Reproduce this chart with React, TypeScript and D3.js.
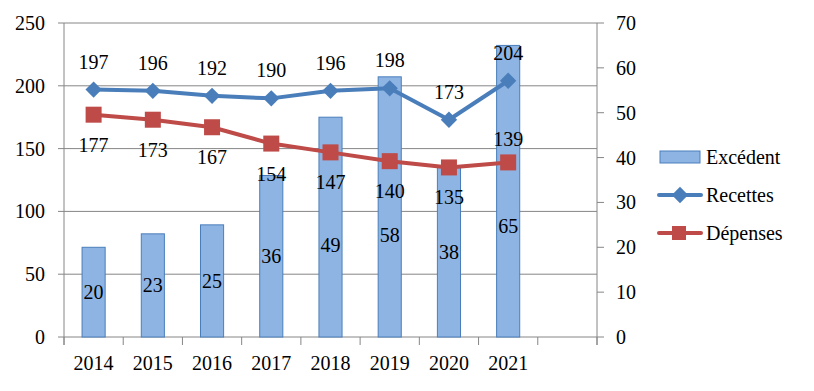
import * as d3 from "d3";
import type { ReactNode } from "react";

const years = ["2014", "2015", "2016", "2017", "2018", "2019", "2020", "2021", ""];
const excedent = [20, 23, 25, 36, 49, 58, 38, 65];
const recettes = [197, 196, 192, 190, 196, 198, 173, 204];
const depenses = [177, 173, 167, 154, 147, 140, 135, 139];
const leftTicks = [0, 50, 100, 150, 200, 250];
const rightTicks = [0, 10, 20, 30, 40, 50, 60, 70];

// manual label nudges (px) as in the original, where labels were dragged
const barLabelShift = [0, 0, 0, 0, 18, 28, 0, 35];
const depLabelAbove = [false, false, false, false, false, false, false, true];

const width = 814;
const height = 391;
const marginLeft = 64;
const marginRight = 217;
const marginTop = 23;
const marginBottom = 54;

const blue = "#4A7EBB";
const red = "#BE4B48";
const barFill = "#8EB4E3";
const grid = "#868686";

const T = ({ x, y, anchor = "start", children }: { x: number; y: number; anchor?: string; children: ReactNode }) => (
  <text
    x={x}
    y={y}
    dy="0.35em"
    textAnchor={anchor}
    fill="#000"
    style={{ fontFamily: "Liberation Serif", fontSize: 20 }}
  >
    {children}
  </text>
);

export default function App() {
  const x = d3
    .scaleBand()
    .domain(years)
    .range([marginLeft, width - marginRight]);
  const yL = d3.scaleLinear().domain([0, 250]).range([height - marginBottom, marginTop]);
  const yR = d3.scaleLinear().domain([0, 70]).range([height - marginBottom, marginTop]);
  const cx = (i: number) => x(years[i])! + x.bandwidth() / 2;
  const barW = x.bandwidth() * 0.39;

  const line = d3
    .line<number>()
    .x((_, i) => cx(i))
    .y((d) => yL(d));

  const x0 = marginLeft;
  const x1 = width - marginRight;
  const yBase = height - marginBottom;

  const legendX = 659;
  const legendY = [157, 195, 233];
  const diamond = d3.symbol(d3.symbolDiamond2, 170)() || "";

  return (
    <svg width={width} height={height} style={{ position: "absolute", left: 0, top: 0, background: "#fff" }}>
      <rect width={width} height={height} fill="#fff" />
      {/* gridlines */}
      {leftTicks.map((t) => (
        <line key={t} x1={x0 - 6} x2={x1} y1={yL(t)} y2={yL(t)} stroke={grid} strokeWidth={1} />
      ))}
      {/* left axis */}
      <line x1={x0} x2={x0} y1={marginTop} y2={yBase + 8} stroke={grid} />
      {leftTicks.map((t) => (
        <T key={t} x={x0 - 19} y={yL(t)} anchor="end">
          {t}
        </T>
      ))}
      {/* right axis */}
      <line x1={x1} x2={x1} y1={marginTop} y2={yBase + 8} stroke={grid} />
      {rightTicks.map((t) => (
        <g key={t}>
          <line x1={x1} x2={x1 + 7} y1={yR(t)} y2={yR(t)} stroke={grid} />
          <T x={x1 + 19} y={yR(t)}>
            {t}
          </T>
        </g>
      ))}
      {/* x axis ticks */}
      {[...years.map((d) => x(d)!), x1].map((p, i) => (
        <line key={i} x1={p} x2={p} y1={yBase} y2={yBase + 8} stroke={grid} />
      ))}
      {years.map((d) => (
        <T key={d} x={x(d)! + x.bandwidth() / 2} y={yBase + 26} anchor="middle">
          {d}
        </T>
      ))}
      {/* bars */}
      {excedent.map((v, i) => (
        <rect
          key={i}
          x={cx(i) - barW / 2}
          y={yR(v)}
          width={barW}
          height={yBase - yR(v)}
          fill={barFill}
          stroke={blue}
          strokeWidth={1}
        />
      ))}
      {excedent.map((v, i) => (
        <T key={i} x={cx(i)} y={(yR(v) + yBase) / 2 + barLabelShift[i]} anchor="middle">
          {v}
        </T>
      ))}
      {/* Recettes */}
      <path d={line(recettes) || ""} fill="none" stroke={blue} strokeWidth={4} strokeLinejoin="round" />
      {recettes.map((v, i) => (
        <path key={i} d={diamond} transform={`translate(${cx(i)},${yL(v)})`} fill={blue} />
      ))}
      {recettes.map((v, i) => (
        <T key={i} x={cx(i)} y={yL(v) - 28} anchor="middle">
          {v}
        </T>
      ))}
      {/* Dépenses */}
      <path d={line(depenses) || ""} fill="none" stroke={red} strokeWidth={4} strokeLinejoin="round" />
      {depenses.map((v, i) => (
        <rect key={i} x={cx(i) - 8} y={yL(v) - 8} width={16} height={16} fill={red} />
      ))}
      {depenses.map((v, i) => (
        <T key={i} x={cx(i)} y={yL(v) + (depLabelAbove[i] ? -23 : 30)} anchor="middle">
          {v}
        </T>
      ))}
      {/* legend */}
      <rect x={legendX + 1} y={legendY[0] - 6} width={40} height={12} fill={barFill} stroke={blue} />
      <T x={legendX + 47} y={legendY[0]}>Excédent</T>
      <line x1={legendX} x2={legendX + 42} y1={legendY[1]} y2={legendY[1]} stroke={blue} strokeWidth={4} strokeLinecap="round" />
      <path d={diamond} transform={`translate(${legendX + 21},${legendY[1]})`} fill={blue} />
      <T x={legendX + 47} y={legendY[1]}>Recettes</T>
      <line x1={legendX} x2={legendX + 42} y1={legendY[2]} y2={legendY[2]} stroke={red} strokeWidth={4} strokeLinecap="round" />
      <rect x={legendX + 13} y={legendY[2] - 7} width={14} height={14} fill={red} />
      <T x={legendX + 47} y={legendY[2]}>Dépenses</T>
    </svg>
  );
}
